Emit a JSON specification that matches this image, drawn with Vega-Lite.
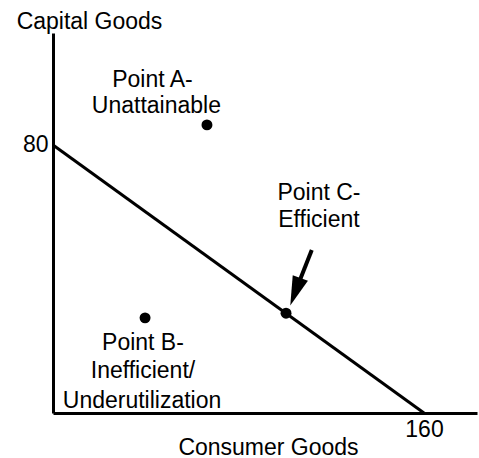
{
  "$schema": "https://vega.github.io/schema/vega-lite/v6.json",
  "width": 424,
  "height": 380,
  "autosize": "none",
  "padding": {"left": 53, "top": 33, "right": 2, "bottom": 45},
  "background": "white",
  "config": {
    "view": {"stroke": null},
    "font": "Liberation Sans",
    "text": {"font": "Liberation Sans"}
  },
  "datasets": {
    "ppf": [{"x": 0, "y": 80}, {"x": 160, "y": 0}],
    "points": [
      {"label": "A", "x": 66.4, "y": 86.0},
      {"label": "B", "x": 39.7, "y": 28.4},
      {"label": "C", "x": 100.5, "y": 29.8}
    ],
    "arrow": [{"x": 111.6, "y": 48.66, "x2": 104.5, "y2": 36.2}],
    "labels": [
      {"text": "Point A-", "x": 42.9, "y": 97.3},
      {"text": "Unattainable", "x": 44.6, "y": 89.6},
      {"text": "Point C-", "x": 114.7, "y": 63.6},
      {"text": "Efficient", "x": 114.7, "y": 55.5},
      {"text": "Point B-", "x": 38.8, "y": 18.8},
      {"text": "Inefficient/", "x": 38.8, "y": 10.4},
      {"text": "Underutilization", "x": 38.4, "y": 1.5}
    ]
  },
  "layer": [
    {
      "data": {"name": "ppf"},
      "mark": {"type": "line", "color": "black", "strokeWidth": 3},
      "encoding": {
        "x": {
          "field": "x", "type": "quantitative",
          "scale": {"domain": [0, 182.86], "nice": false, "zero": false},
          "axis": {
            "values": [160], "ticks": false, "tickSize": 0, "grid": false,
            "domainColor": "black", "domainWidth": 3,
            "labelFontSize": 23, "labelColor": "black", "labelFont": "Liberation Sans",
            "labelPadding": 23, "labelBaseline": "alphabetic", "labelAlign": "center",
            "title": "Consumer Goods", "titleFontSize": 23, "titleFontWeight": "normal",
            "titleColor": "black", "titleFont": "Liberation Sans",
            "titleX": 215, "titleY": 41, "titleBaseline": "alphabetic", "titleAlign": "center"
          }
        },
        "y": {
          "field": "y", "type": "quantitative",
          "scale": {"domain": [0, 113.43], "nice": false, "zero": false},
          "axis": {
            "values": [80], "ticks": false, "tickSize": 0, "grid": false,
            "domainColor": "black", "domainWidth": 3,
            "labelFontSize": 23, "labelColor": "black", "labelFont": "Liberation Sans",
            "labelPadding": 5, "labelBaseline": "middle",
            "title": "Capital Goods", "titleFontSize": 23, "titleFontWeight": "normal",
            "titleColor": "black", "titleFont": "Liberation Sans",
            "titleAngle": 0, "titleX": 36, "titleY": -5,
            "titleBaseline": "alphabetic", "titleAlign": "center"
          }
        }
      }
    },
    {
      "data": {"name": "points"},
      "mark": {"type": "point", "filled": true, "color": "black", "opacity": 1, "size": 120},
      "encoding": {
        "x": {"field": "x", "type": "quantitative"},
        "y": {"field": "y", "type": "quantitative"}
      }
    },
    {
      "data": {"name": "arrow"},
      "mark": {"type": "rule", "color": "black", "strokeWidth": 4},
      "encoding": {
        "x": {"field": "x", "type": "quantitative"},
        "y": {"field": "y", "type": "quantitative"},
        "x2": {"field": "x2"},
        "y2": {"field": "y2"}
      }
    },
    {
      "data": {"name": "arrow"},
      "mark": {"type": "point", "filled": true, "color": "black", "opacity": 1, "size": 864, "angle": 200, "shape": "M0,-1L0.55,1L-0.55,1Z"},
      "encoding": {
        "x": {"field": "x2", "type": "quantitative"},
        "y": {"field": "y2", "type": "quantitative"}
      }
    },
    {
      "data": {"name": "labels"},
      "mark": {"type": "text", "fontSize": 23, "color": "black", "align": "center", "baseline": "alphabetic", "font": "Liberation Sans"},
      "encoding": {
        "x": {"field": "x", "type": "quantitative"},
        "y": {"field": "y", "type": "quantitative"},
        "text": {"field": "text"}
      }
    }
  ]
}
